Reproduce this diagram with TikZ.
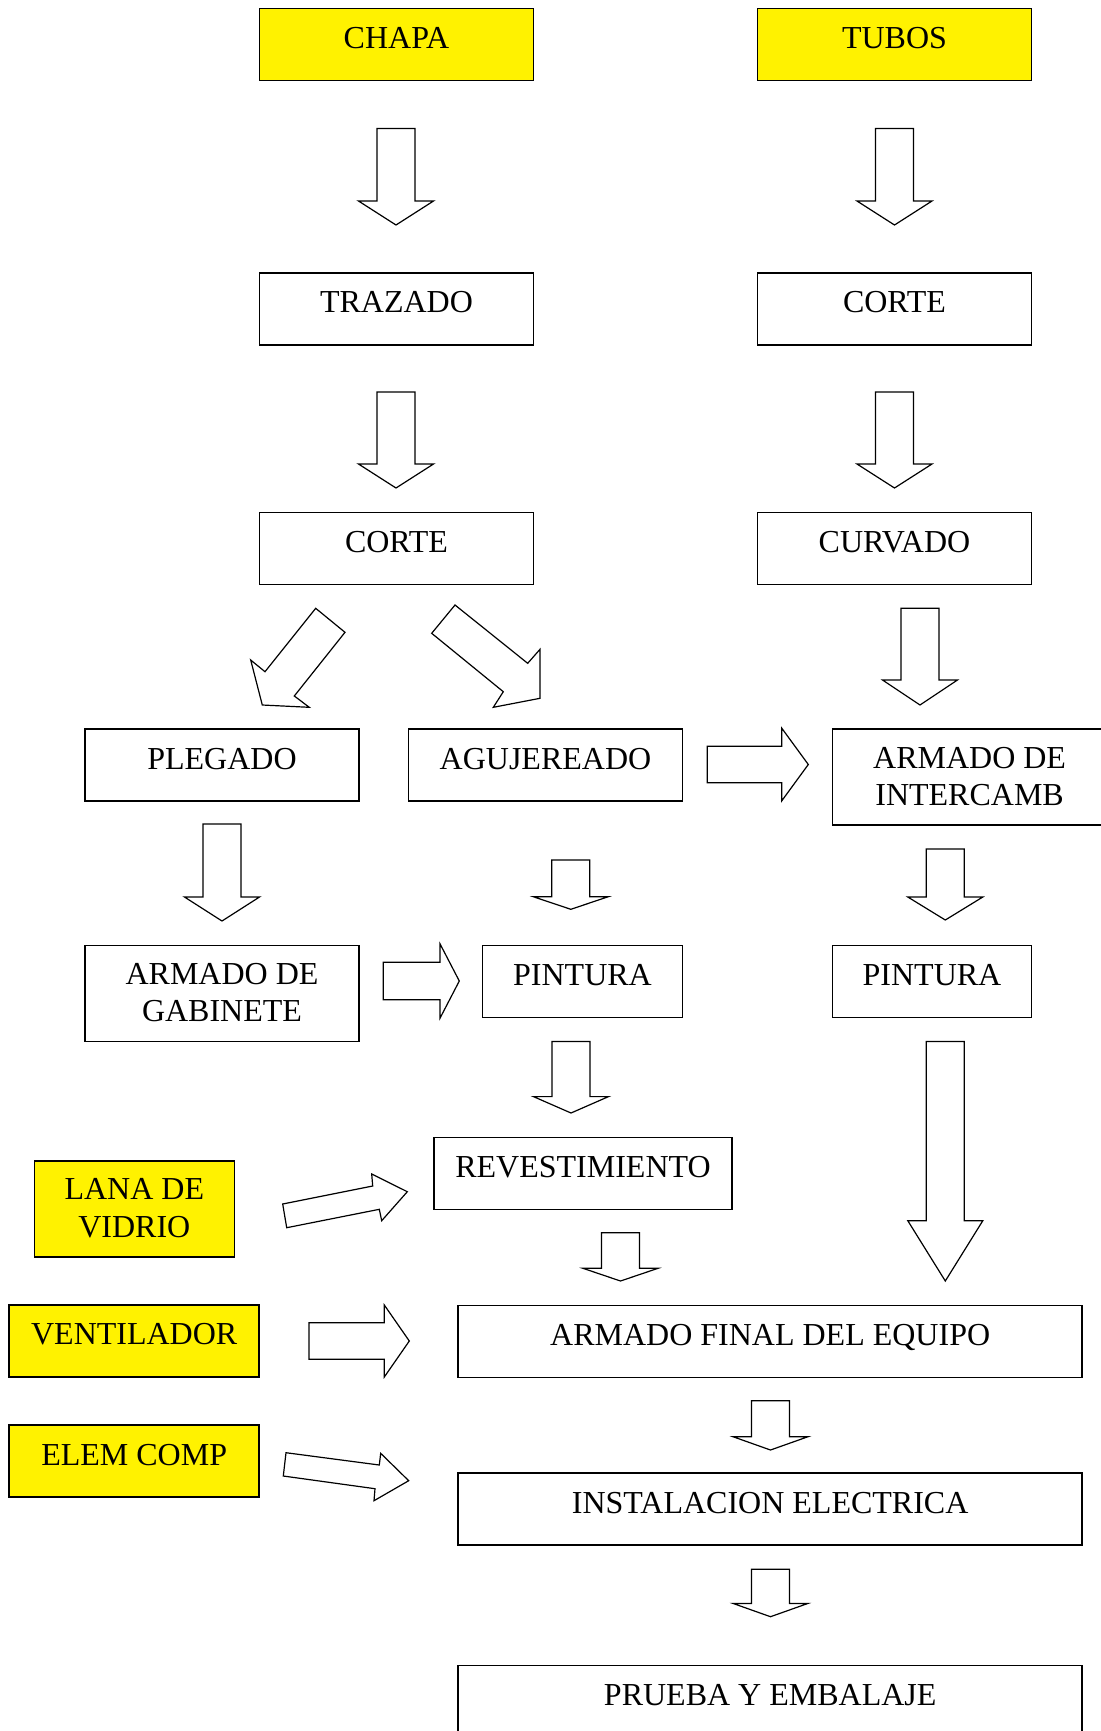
\documentclass[tikz,border=0pt]{standalone}
\usepackage{fontspec}
\setmainfont{Liberation Serif}
\newcommand\dnarrow[4]{%
  \draw[blkarrow] ({#1-19},#2) -- ({#1+19},#2) -- ({#1+19},#3) -- ({#1+37.5},#3)
    -- (#1,#4) -- ({#1-37.5},#3) -- ({#1-19},#3) -- cycle;}
\newcommand\rtarrow[6]{%
  \draw[blkarrow] (#2,{#1-#5}) -- (#3,{#1-#5}) -- (#3,{#1-#6}) -- (#4,#1)
    -- (#3,{#1+#6}) -- (#3,{#1+#5}) -- (#2,{#1+#5}) -- cycle;}
\begin{document}
\begin{tikzpicture}[x=0.5pt,y=-0.5pt,
  box/.style={draw=black, line width=0.8pt, inner sep=0pt,
    minimum width={#1*0.5pt}, text height=20pt, text depth=16pt,
    font=\fontsize{16}{18.75}\selectfont},
  box/.default=274,
  boxtwo/.style={box=#1, text height=19.5pt, text depth=28.5pt},
  boxtwo/.default=274,
  ybox/.style={fill=yellow},
  blkarrow/.style={draw=black, line width=0.6pt, fill=white, line join=miter}]
\useasboundingbox (0,0) rectangle (1101,1731);
\clip (0,0) rectangle (1101,1731);

% top row
\node[box, ybox] (chapa) at (396.5,44.5) {CHAPA};
\node[box, ybox] (tubos) at (894.5,44.5) {TUBOS};
\dnarrow{396}{128.5}{201}{225}
\dnarrow{894.5}{128.5}{201}{225}

\node[box] (trazado) at (396.5,308.8) {TRAZADO};
\node[box] (corteb) at (894.5,308.8) {CORTE};
\dnarrow{396}{392}{464}{488}
\dnarrow{894.5}{392}{464}{488}

\node[box] (cortea) at (396.5,548.4) {CORTE};
\node[box] (curvado) at (894.5,548.4) {CURVADO};

% diagonal arrows
\draw[blkarrow] (315.7,608.3) -- (345,632.3) -- (294.3,696) -- (309.3,707.3)
  -- (262.3,705) -- (250.7,660) -- (265,671.7) -- cycle;
\draw[blkarrow] (455,605) -- (431.7,633.3) -- (503.3,691.7) -- (493.3,707.3)
  -- (540,698.3) -- (540,649.3) -- (527.7,663.3) -- cycle;
\dnarrow{920}{608.3}{680}{705}

% row 4
\node[box] (plegado) at (222,765) {PLEGADO};
\node[box] (agujereado) at (545.5,765) {AGUJEREADO};
\node[boxtwo] (intercamb) at (969.6,777)
  {\begin{tabular}[t]{@{}c@{}}ARMADO DE\\INTERCAMB\end{tabular}};
\rtarrow{764.5}{707.3}{781.7}{808.3}{18.3}{36.4}

\dnarrow{222}{824}{897}{921}
\dnarrow{570.8}{860}{896.7}{909.3}
\dnarrow{945.3}{849}{897}{920}

% row 5
\node[boxtwo] (gabinete) at (222,993.3)
  {\begin{tabular}[t]{@{}c@{}}ARMADO DE\\GABINETE\end{tabular}};
\node[box=200] (pinturaa) at (582.5,981.3) {PINTURA};
\node[box=199] (pinturab) at (932,981.3) {PINTURA};
\rtarrow{981}{383.3}{440}{459.3}{18.8}{37.2}

\dnarrow{571}{1041.4}{1096.6}{1113}
\dnarrow{945.3}{1041.4}{1220.7}{1281}

% revestimiento and inputs
\node[box=298] (revest) at (583,1173.4) {REVESTIMIENTO};
\node[boxtwo=200, ybox] (lana) at (134.3,1208.7)
  {\begin{tabular}[t]{@{}c@{}}LANA DE\\VIDRIO\end{tabular}};
\draw[blkarrow] (282.7,1204) -- (372.7,1186) -- (371.7,1174) -- (407.3,1191.7)
  -- (381.7,1220.7) -- (379.3,1209.3) -- (286.7,1227.7) -- cycle;
\dnarrow{620.5}{1232.7}{1268.3}{1281}

\node[box=250, ybox] (ventilador) at (134.2,1340.7) {VENTILADOR};
\node[box=624] (armfinal) at (770.2,1341.3) {ARMADO FINAL DEL EQUIPO};
\rtarrow{1341}{309}{384.3}{409.3}{18.2}{36}

\node[box=250, ybox] (elem) at (134.2,1461) {ELEM COMP};
\draw[blkarrow] (286,1452.7) -- (379.3,1465) -- (380.7,1453.3) -- (408.7,1480.7)
  -- (374,1500.7) -- (375,1488.7) -- (283.3,1476) -- cycle;
\dnarrow{770.5}{1400.7}{1436.7}{1450}

\node[box=624] (instal) at (770.2,1509.1) {INSTALACION ELECTRICA};
\dnarrow{770.5}{1569.2}{1603.4}{1616.7}

\node[box=624] (prueba) at (770.2,1701.3) {PRUEBA Y EMBALAJE};
\end{tikzpicture}
\end{document}
